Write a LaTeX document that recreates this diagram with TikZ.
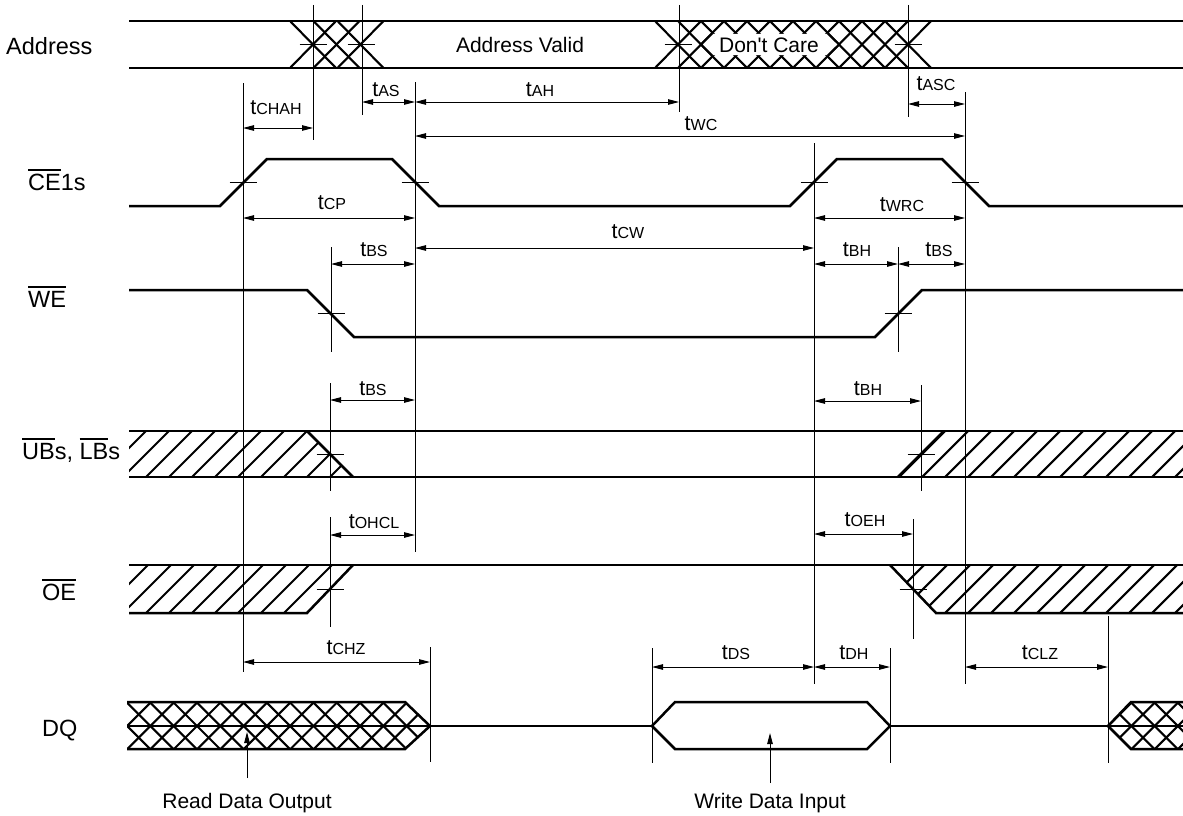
\documentclass[tikz,border=0pt]{standalone}
\usepackage{fontspec}
\setmainfont{Liberation Sans}
\newfontfamily\straightfont{Liberation Sans}[Ligatures=TeXOff]
\usetikzlibrary{arrows.meta}
\newcommand\ovl[1]{\vbox{\hrule height 1.4pt\kern 3pt\hbox{#1}}}
\newcommand\tm[1]{{\fontsize{21.5}{24}\selectfont t}{\fontsize{16}{18}\selectfont #1}}
\tikzset{
 sig/.style={line width=2.5pt, line join=miter},
 hat/.style={line width=2.1pt},
 vl/.style={line width=1pt},
 tk/.style={line width=1pt},
 dimarrow/.style={line width=1pt, {Triangle[length=11pt,width=5.5pt]}-{Triangle[length=11pt,width=5.5pt]}},
 ptr/.style={line width=1pt, -{Triangle[length=11pt,width=5.5pt]}},
 sname/.style={font=\fontsize{23.5}{26}\selectfont, inner sep=0pt, anchor=base west},
 txt/.style={font=\fontsize{21}{24}\selectfont, inner sep=0pt},
 tlab/.style={inner sep=0pt},
}
\begin{document}
\begin{tikzpicture}[x=1pt,y=-1pt]
\useasboundingbox (0,0) rectangle (1183,816);
\fill[white] (0,0) rectangle (1183,816);

% ---------------- Address ----------------
\foreach \a in {290,313.5,337.5} {
  \draw[hat] (\a,21) -- ++(46,47);
  \draw[hat] (\a,68) -- ++(46,-47);
}
\foreach \k in {0,...,10} {
  \draw[hat] (655+23*\k,21) -- ++(46,47);
  \draw[hat] (655+23*\k,68) -- ++(46,-47);
}
\fill[white] (701,44.5) -- (712.3,33.8) -- (827.7,33.8) -- (839,44.5) -- (827.7,55.2) -- (712.3,55.2) -- cycle;
\draw[hat] (712.3,33.3) -- (701,44.5) -- (712.3,55.7);
\draw[hat] (827.7,33.3) -- (839,44.5) -- (827.7,55.7);
\draw[sig] (129,21) -- (1183,21);
\draw[sig] (129,68) -- (1183,68);
\node[txt] (av) at (520,45) {Address Valid};
\node[txt] (dc) at (769,45) {\straightfont Don't Care};

% ---------------- CE1s ----------------
\draw[sig] (129,206) -- (220,206) -- (267,159) -- (392,159) -- (439,206) -- (790,206) -- (837,159) -- (942,159) -- (989,206) -- (1183,206);

% ---------------- WE ----------------
\draw[sig] (129,290) -- (307,290) -- (354,337) -- (875,337) -- (922,290) -- (1183,290);

% ---------------- UBs, LBs ----------------
\begin{scope}
\clip (129,431) -- (307,431) -- (353,477) -- (129,477) -- cycle;
\foreach \k in {-3,...,10} \draw[hat] (123+23*\k,477) -- ++(46,-46);
\end{scope}
\begin{scope}
\clip (898,477) -- (944,431) -- (1183,431) -- (1183,477) -- cycle;
\foreach \k in {0,...,13} \draw[hat] (899+23*\k,477) -- ++(46,-46);
\end{scope}
\draw[sig] (129,431) -- (1183,431);
\draw[sig] (129,477) -- (1183,477);
\draw[sig] (307,431) -- (353,477);
\draw[sig] (898,477) -- (944,431);

% ---------------- OE ----------------
\begin{scope}
\clip (129,565) -- (353,565) -- (307,613) -- (129,613) -- cycle;
\foreach \k in {-3,...,10} \draw[hat] (123+23*\k,613) -- ++(48,-48);
\end{scope}
\begin{scope}
\clip (890,565) -- (1183,565) -- (1183,613) -- (936,613) -- cycle;
\foreach \k in {-1,...,13} \draw[hat] (899+23*\k,613) -- ++(48,-48);
\end{scope}
\draw[sig] (129,565) -- (1183,565);
\draw[sig] (129,613) -- (307,613) -- (353,565);
\draw[sig] (890,565) -- (936,613) -- (1183,613);

% ---------------- DQ ----------------
\begin{scope}
\clip (127,702) -- (405,702) -- (430,726) -- (405,749) -- (127,749) -- cycle;
\foreach \k in {0,...,14} {
  \draw[hat] (430-23.3*\k-26,700) -- ++(52,52);
  \draw[hat] (430-23.3*\k-26,752) -- ++(52,-52);
}
\end{scope}
\draw[line width=1.5pt] (127,726) -- (430,726);
\draw[sig] (127,702) -- (405,702) -- (430,726) -- (405,749) -- (127,749);
\begin{scope}
\clip (1108,726) -- (1131,702) -- (1190,702) -- (1190,749) -- (1131,749) -- cycle;
\foreach \k in {0,...,4} {
  \draw[hat] (1108+23.3*\k-26,700) -- ++(52,52);
  \draw[hat] (1108+23.3*\k-26,752) -- ++(52,-52);
}
\end{scope}
\draw[sig] (1183,702) -- (1131,702) -- (1108,726) -- (1131,749) -- (1183,749);
\draw[sig] (430,726) -- (652,726);
\draw[sig] (652,726) -- (675,702) -- (867,702) -- (890,726) -- (867,749) -- (675,749) -- cycle;
\draw[sig] (890,726) -- (1183,726);

% ---------------- ticks ----------------
\foreach \x/\y in {313/44.5,361/44.5,678/44.5,908/44.5,243/182.5,415/182.5,814/182.5,965/182.5,331/313,898/313,330/454,921/454,330/589,913/589}
  \draw[tk] (\x-13.5,\y) -- (\x+13.5,\y);

% ---------------- vertical reference lines ----------------
\draw[vl] (243,83) -- (243,672);
\draw[vl] (313,5) -- (313,140);
\draw[vl] (362,5) -- (362,115);
\draw[vl] (415,82) -- (415,552);
\draw[vl] (679,5) -- (679,112);
\draw[vl] (908,5) -- (908,117);
\draw[vl] (965,92) -- (965,684);
\draw[vl] (814,143) -- (814,684);
\draw[vl] (331,247) -- (331,352);
\draw[vl] (898,247) -- (898,352);
\draw[vl] (330,383) -- (330,491);
\draw[vl] (921,385) -- (921,491);
\draw[vl] (330,517) -- (330,627);
\draw[vl] (913,519) -- (913,639);
\draw[vl] (430,647) -- (430,762);
\draw[vl] (652,648) -- (652,763);
\draw[vl] (890,648) -- (890,763);
\draw[vl] (1108,616) -- (1108,763);

% ---------------- dimension arrows ----------------
\draw[dimarrow] (243,128) -- (313,128);
\draw[dimarrow] (362,102) -- (415,102);
\draw[dimarrow] (415,102) -- (679,102);
\draw[dimarrow] (908,104) -- (965,104);
\draw[dimarrow] (415,136) -- (965,136);
\draw[dimarrow] (243,218) -- (415,218);
\draw[dimarrow] (814,218) -- (965,218);
\draw[dimarrow] (331,264) -- (415,264);
\draw[dimarrow] (415,248) -- (814,248);
\draw[dimarrow] (814,264) -- (898,264);
\draw[dimarrow] (898,264) -- (965,264);
\draw[dimarrow] (330,400) -- (415,400);
\draw[dimarrow] (814,401) -- (921,401);
\draw[dimarrow] (330,535) -- (415,535);
\draw[dimarrow] (814,534) -- (913,534);
\draw[dimarrow] (243,662) -- (430,662);
\draw[dimarrow] (652,667) -- (814,667);
\draw[dimarrow] (814,667) -- (890,667);
\draw[dimarrow] (965,667) -- (1108,667);

% ---------------- timing labels ----------------
\node[tlab] (tchah) at (276,108) {\tm{CHAH}};
\node[tlab] (tas) at (386,90) {\tm{AS}};
\node[tlab] (tah) at (540,90) {\tm{AH}};
\node[tlab] (twc) at (701,124) {\tm{WC}};
\node[tlab] (tasc) at (936,84) {\tm{ASC}};
\node[tlab] (tcp) at (332,203) {\tm{CP}};
\node[tlab] (twrc) at (902,205) {\tm{WRC}};
\node[tlab] (tbs1) at (374,250) {\tm{BS}};
\node[tlab] (tcw) at (628,232) {\tm{CW}};
\node[tlab] (tbh1) at (857,250) {\tm{BH}};
\node[tlab] (tbs2) at (939,250) {\tm{BS}};
\node[tlab] (tbs3) at (373,389) {\tm{BS}};
\node[tlab] (tbh2) at (868,389) {\tm{BH}};
\node[tlab] (tohcl) at (374,522) {\tm{OHCL}};
\node[tlab] (toeh) at (865,520) {\tm{OEH}};
\node[tlab] (tchz) at (346,648) {\tm{CHZ}};
\node[tlab] (tds) at (736,653) {\tm{DS}};
\node[tlab] (tdh) at (854,653) {\tm{DH}};
\node[tlab] (tclz) at (1040,653) {\tm{CLZ}};

% ---------------- signal names ----------------
\node[sname] (nAddr) at (6,55) {Address};
\node[sname] (nCE) at (28,190) {\ovl{CE}1s};
\node[sname] (nWE) at (28,307) {\ovl{WE}};
\node[sname] (nUB) at (22,459) {\ovl{UB}s, \ovl{LB}s};
\node[sname] (nOE) at (42,600) {\ovl{OE}};
\node[sname] (nDQ) at (42,736) {DQ};

% ---------------- data pointers ----------------
\coordinate (rdp) at (247,778);
\coordinate (rdt) at (247,732);
\coordinate (wdp) at (770,783);
\coordinate (wdt) at (770,733);
\draw[ptr] (rdp) -- (rdt);
\draw[ptr] (wdp) -- (wdt);
\node[txt, anchor=base] (rdo) at (247,808) {Read Data Output};
\node[txt, anchor=base] (wdi) at (770,808) {Write Data Input};
\end{tikzpicture}
\end{document}
